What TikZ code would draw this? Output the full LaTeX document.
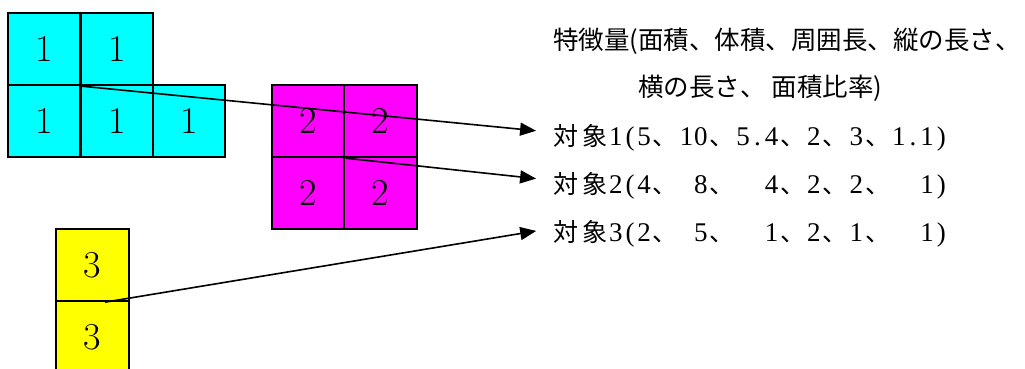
\documentclass[tikz,border=0pt]{standalone}
\usepackage{fontspec}
\newfontfamily\cjk{Noto Sans CJK JP}
\newfontfamily\digs{Liberation Serif}
\usetikzlibrary{arrows.meta}
\definecolor{cyn}{RGB}{0,255,255}
\definecolor{mgt}{RGB}{255,0,255}
\definecolor{ylw}{RGB}{255,255,0}
\newcommand\hw[1]{\makebox[14.15pt]{#1}}
\newcommand\fw[1]{\makebox[28.3pt]{\cjk\fontsize{25}{27}\selectfont #1}}
\tikzset{
  cell/.style={draw=black, line width=2pt, minimum size=72.3pt, inner sep=0pt,
    font=\fontsize{38}{40}\selectfont},
  cyancell/.style={cell, fill=cyn},
  magcell/.style={cell, fill=mgt},
  yelcell/.style={cell, fill=ylw},
  arr/.style={line width=1.6pt, -{Triangle[length=16pt,width=13pt]}, shorten >=16pt},
  objline/.style={anchor=base west, inner sep=0pt, font=\digs\fontsize{27}{30}\selectfont},
  titleline/.style={anchor=base west, inner sep=0pt, font=\cjk\fontsize{25.5}{28}\selectfont},
}
\begin{document}
\begin{tikzpicture}[x=1pt,y=-1pt]
\useasboundingbox (0,0) rectangle (1025,369);
% object 1 (cyan)
\node[cyancell] (c1) at (44.25,49) {1};
\node[cyancell] (c2) at (116.75,49) {1};
\node[cyancell] (c3) at (44.25,121) {1};
\node[cyancell] (c4) at (116.75,121) {1};
\node[cyancell] (c5) at (189.25,121) {1};
% object 2 (magenta)
\node[magcell] (m1) at (308.5,121) {2};
\node[magcell] (m2) at (380.5,121) {2};
\node[magcell] (m3) at (308.5,193) {2};
\node[magcell] (m4) at (380.5,193) {2};
% object 3 (yellow)
\node[yelcell] (y1) at (92.5,265) {3};
\node[yelcell] (y2) at (92.5,337) {3};
% texts
\node[titleline] (title1) at (553,50) {特徴量(面積、体積、周囲長、縦の長さ、};
\node[titleline] (title2) at (638,96) {横の長さ、\hspace{6pt}面積比率)};
\node[objline] (t1) at (552,145) {\fw{対}\fw{象}\hw{1}\hw{(}\hw{5}\fw{、}\hw{1}\hw{0}\fw{、}\hw{5}\hw{.}\hw{4}\fw{、}\hw{2}\fw{、}\hw{3}\fw{、}\hw{1}\hw{.}\hw{1}\hw{)}};
\node[objline] (t2) at (552,193) {\fw{対}\fw{象}\hw{2}\hw{(}\hw{4}\fw{、}\hw{}\hw{8}\fw{、}\hw{}\hw{}\hw{4}\fw{、}\hw{2}\fw{、}\hw{2}\fw{、}\hw{}\hw{}\hw{1}\hw{)}};
\node[objline] (t3) at (552,241) {\fw{対}\fw{象}\hw{3}\hw{(}\hw{2}\fw{、}\hw{}\hw{5}\fw{、}\hw{}\hw{}\hw{1}\fw{、}\hw{2}\fw{、}\hw{1}\fw{、}\hw{}\hw{}\hw{1}\hw{)}};
% connectors
\coordinate (s3) at ([xshift=12.5pt]y1.south);
\draw[arr] (c1.south east) -- ([yshift=5pt]t1.west);
\draw[arr] (m1.south east) -- ([yshift=5pt]t2.west);
\draw[arr] (s3) -- ([yshift=5pt]t3.west);
\end{tikzpicture}
\end{document}
